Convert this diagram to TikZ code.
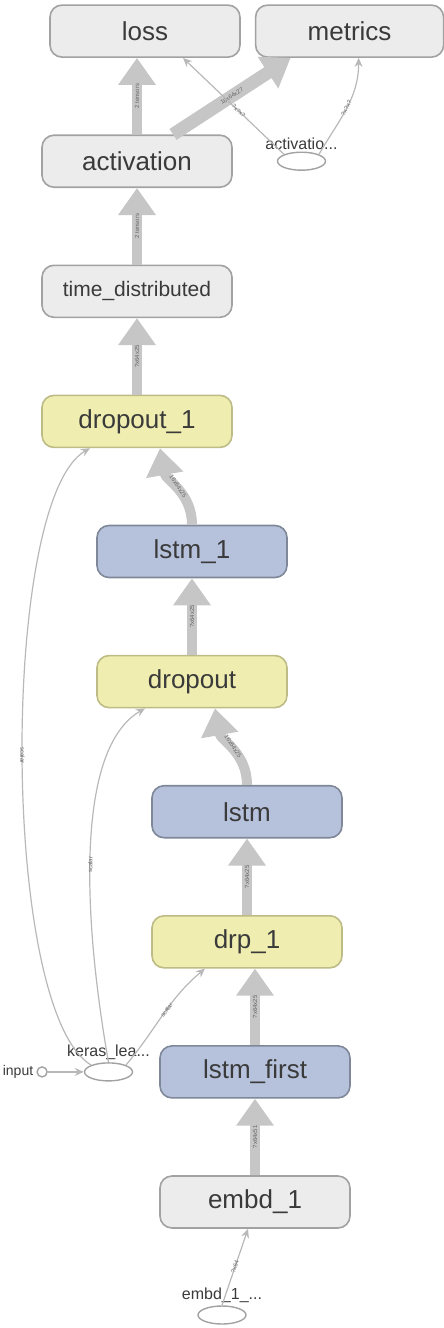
\documentclass[tikz,border=0pt]{standalone}
\usepackage{fontspec}
\setmainfont{Liberation Sans}
\usepackage{xcolor}
\usetikzlibrary{arrows.meta, positioning, shapes.geometric}

\definecolor{grayfill}{HTML}{ECECEC}
\definecolor{grayline}{HTML}{A2A2A2}
\definecolor{yelfill}{HTML}{EFEEB0}
\definecolor{yelline}{HTML}{BDBB86}
\definecolor{bluefill}{HTML}{B6C2DC}
\definecolor{blueline}{HTML}{7F8899}
\definecolor{flowcol}{HTML}{C6C6C6}
\definecolor{ctrlcol}{HTML}{B8B8B8}
\definecolor{txtcol}{HTML}{3A3A3A}

\begin{document}
\begin{tikzpicture}[
  node distance=76.5pt and 14pt,
  box/.style={draw, line width=1.6pt, rounded corners=12pt, align=center, minimum height=52pt, minimum width=190pt, text=txtcol, font=\fontsize{26}{30}\selectfont},
  graybox/.style={box, fill=grayfill, draw=grayline},
  yelbox/.style={box, fill=yelfill, draw=yelline},
  bluebox/.style={box, fill=bluefill, draw=blueline},
  op/.style={draw=grayline, line width=1.4pt, ellipse, minimum width=48pt, minimum height=18pt, inner sep=0pt},
  oplbl/.style={font=\fontsize{16}{18}\selectfont, text=txtcol, inner sep=1pt},
  flow/.style={draw=flowcol, line width=10pt, -{Triangle[width=36pt,length=27pt]}},
  ctrl/.style={draw=ctrlcol, line width=1.2pt, -{Stealth[width=8pt,length=9pt]}},
  elbl/.style={font=\fontsize{6}{7}\selectfont, text=black!60, sloped, inner sep=0.5pt}
]
\useasboundingbox (0pt,0pt) rectangle (444pt,-1328pt);

\node[graybox] (embd) at (255pt,-1202pt) {embd\_1};
\node[bluebox, above=of embd] (lstmfirst) {lstm\_first};
\node[yelbox, above=of lstmfirst, xshift=-8pt] (drp1) {drp\_1};
\node[bluebox, above=of drp1] (lstm) {lstm};
\node[yelbox, above=of lstm, xshift=-55pt] (dropout) {dropout};
\node[bluebox, above=of dropout] (lstm1) {lstm\_1};
\node[yelbox, above=of lstm1, xshift=-55pt] (dropout1) {dropout\_1};
\node[graybox, above=of dropout1, font=\fontsize{21}{25}\selectfont] (timedist) {time\_distributed};
\node[graybox, above=of timedist] (act) {activation};
\node[graybox, above=of act, xshift=8pt] (loss) {loss};
\node[graybox, right=of loss, minimum width=188pt] (metrics) {metrics};

% small op nodes
\node[op, right=44pt of act] (actop) {};
\node[oplbl, above=1pt of actop] (actlbl) {activatio...};
\node[op, left=26pt of lstmfirst] (keras) {};
\node[oplbl, above=1pt of keras] (keraslbl) {keras\_lea...};
\node[op, below=of embd, xshift=-33pt] (embdop) {};
\node[oplbl, above=1pt of embdop] (embdlbl) {embd\_1\_...};
\node[draw=grayline, line width=1.4pt, circle, minimum size=10pt, inner sep=0pt, left=36pt of keras] (inp) {};
\node[oplbl, left=2pt of inp, font=\fontsize{14}{16}\selectfont] (inplbl) {input};

% tensor flows
\draw[flow] (embd.north) -- node[elbl]{?x64x51} (lstmfirst.south);
\draw[flow] (lstmfirst.north) -- node[elbl]{?x64x25} (lstmfirst.north |- drp1.south);
\draw[flow] (drp1.north) -- node[elbl]{?x64x25} (lstm.south);
\draw[flow] (lstm.north) to[out=90,in=-80] node[elbl]{16x64x25} ([xshift=23pt]dropout.south);
\draw[flow] (dropout.north) -- node[elbl]{?x64x25} (lstm1.south);
\draw[flow] (lstm1.north) to[out=90,in=-80] node[elbl]{16x64x25} ([xshift=23pt]dropout1.south);
\draw[flow] (dropout1.north) -- node[elbl]{?x64x25} (timedist.south);
\draw[flow] (timedist.north) -- node[elbl]{2 tensors} (act.south);
\draw[flow] (act.north) -- node[elbl]{2 tensors} (act.north |- loss.south);
\draw[flow, line width=13pt] ([xshift=36pt]act.north) -- node[elbl]{16x64x27} ([xshift=-59pt]metrics.south);

% control edges
\draw[ctrl] (actop.north west) -- node[elbl, pos=0.45]{?x?x?} ([xshift=38pt]loss.south);
\draw[ctrl] (actop.north east) to[out=60,in=-90] node[elbl, pos=0.5]{?x?x?} ([xshift=9pt]metrics.south);
\draw[ctrl] (inp) -- (keras);
\draw[ctrl] (keras.north west) .. controls (0pt,-1010pt) and (0pt,-500pt) .. node[elbl, pos=0.5]{scalar} ([xshift=-47pt]dropout1.south);
\draw[ctrl] (keras.north) to[out=100,in=-150,out distance=150pt,in distance=80pt] node[elbl, pos=0.45]{scalar} ([xshift=-47pt]dropout.south);
\draw[ctrl] (keras.north east) to[out=50,in=-140] node[elbl, pos=0.55]{scalar} ([xshift=-42pt]drp1.south);
\draw[ctrl] (embdop.north) -- node[elbl, pos=0.5]{?x64} ([xshift=-7pt]embd.south);
\end{tikzpicture}
\end{document}
